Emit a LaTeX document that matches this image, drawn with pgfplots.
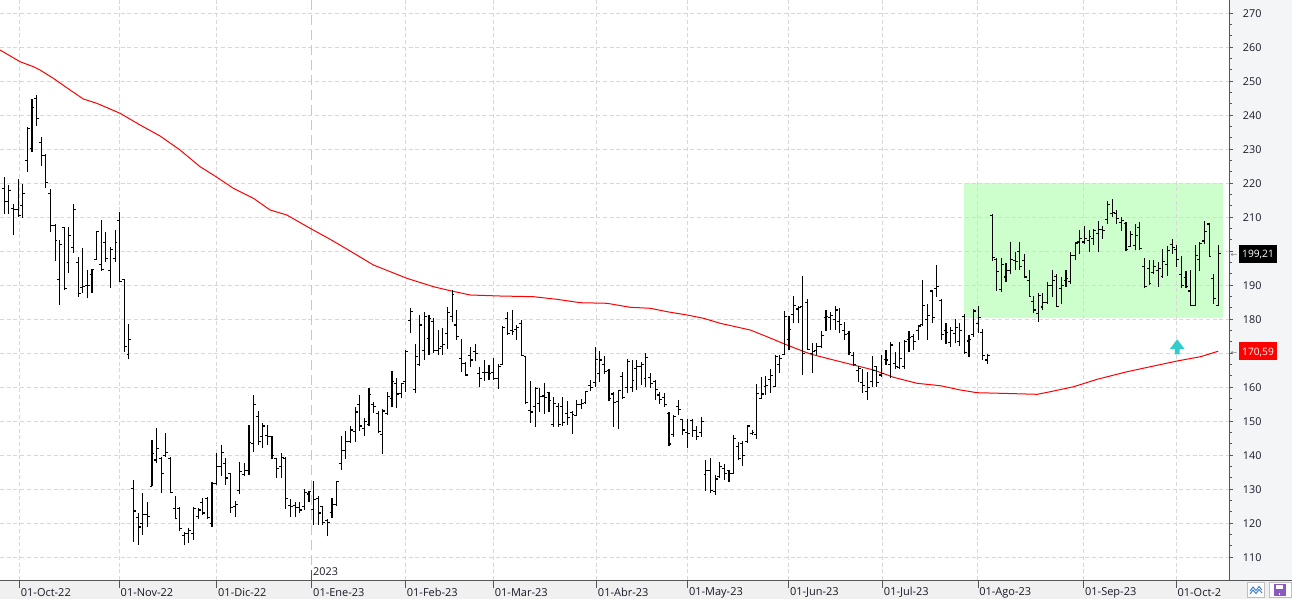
\documentclass[border=0pt]{standalone}
\usepackage{pgfplots}
\pgfplotsset{compat=1.18}
\usepackage{pgfplotstable}
\usetikzlibrary{calc,backgrounds}
\usepackage{fontspec}
\setmainfont{Open Sans}
\newfontfamily\dejavu{DejaVu Sans}
\definecolor{panelR}{RGB}{244,245,247}
\definecolor{panelB}{RGB}{240,240,240}
\definecolor{gridc}{RGB}{216,216,216}
\definecolor{yearc}{RGB}{200,200,200}
\definecolor{boxgreen}{RGB}{204,255,204}
\definecolor{arrowc}{RGB}{51,204,204}
\definecolor{axc}{RGB}{85,85,85}
\definecolor{txt}{RGB}{25,25,40}
\definecolor{floppy}{RGB}{140,90,190}
\definecolor{zig}{RGB}{70,130,210}
\pgfdeclareplotmark{ohlcopen}{\pgfpathmoveto{\pgfqpoint{-2.4pt}{0pt}}\pgfpathlineto{\pgfqpoint{0pt}{0pt}}\pgfusepathqstroke}
\pgfdeclareplotmark{ohlcclose}{\pgfpathmoveto{\pgfqpoint{0pt}{0pt}}\pgfpathlineto{\pgfqpoint{2.4pt}{0pt}}\pgfusepathqstroke}
\newcommand\tagbox[2]{{\setlength{\fboxsep}{0pt}\colorbox{#1}{\rule[-5pt]{0pt}{17.6pt}\hspace{3.3pt}\textcolor{white}{\fontsize{10.2}{12}\selectfont #2}\hspace{3.3pt}}}}
\newcommand\labA{{\textcolor{gray}{\dejavu\fontsize{8}{8}\selectfont ←}\hspace{1.5pt}\tagbox{black}{199,21}}}
\newcommand\labB{{\textcolor{gray}{\dejavu\fontsize{8}{8}\selectfont ←}\hspace{1.5pt}\tagbox{red}{170,59}}}

\pgfplotstableread{
i o h l c
0 218.4 221.8 211.0 214.5
1 214.5 219.4 211.0 217.9
2 212.5 214.0 204.7 212.2
3 212.2 221.1 210.0 210.5
4 213.5 219.9 209.9 217.1
5 226.7 236.5 223.3 236.2
6 230.1 244.8 229.1 242.2
7 244.8 246.0 236.8 238.9
8 231.9 233.5 225.0 228.2
9 228.2 228.5 218.7 220.1
10 216.9 218.4 205.5 207.6
11 207.6 208.1 197.1 203.2
12 191.7 203.2 184.3 202.0
13 206.9 207.1 188.5 189.0
14 196.7 207.1 193.6 204.7
15 201.2 213.8 199.6 212.3
16 196.8 198.3 186.6 187.6
17 189.3 200.8 187.6 189.5
18 190.0 194.6 186.1 190.0
19 193.2 194.9 187.7 194.6
20 197.5 206.0 197.5 205.9
21 196.1 209.1 194.2 194.7
22 202.6 205.5 196.8 197.9
23 194.3 201.2 189.3 200.5
24 197.9 206.1 196.8 202.6
25 208.9 211.4 191.0 191.2
26 191.6 191.8 170.4 172.0
27 169.6 178.7 168.2 174.0
28 130.3 132.8 114.6 123.6
29 121.7 123.1 113.7 118.9
30 119.8 128.8 116.6 122.5
31 122.5 126.3 119.0 122.0
32 130.8 144.6 130.8 140.6
33 138.6 147.9 137.6 142.0
34 139.1 139.4 129.0 134.7
35 139.8 146.4 139.6 140.9
36 139.1 139.6 128.8 129.0
37 124.4 128.0 121.2 121.5
38 124.4 124.9 117.6 118.5
39 116.3 117.5 113.5 117.0
40 117.1 118.5 114.3 117.9
41 117.1 124.8 115.1 124.4
42 122.0 124.4 121.2 123.9
43 126.1 127.4 122.5 123.0
44 127.4 127.6 121.3 121.7
45 120.0 132.0 119.0 131.6
46 131.8 140.6 131.3 136.8
47 136.8 142.9 133.8 140.8
48 137.5 139.1 131.3 133.3
49 134.7 134.9 123.0 124.6
50 124.9 126.6 121.7 125.6
51 129.6 138.1 128.6 135.2
52 134.3 137.6 133.8 135.4
53 135.4 148.9 134.2 143.7
54 143.5 157.7 140.8 155.0
55 151.5 153.0 143.0 144.0
56 145.6 149.6 142.0 148.6
57 145.9 148.9 142.9 145.4
58 145.4 145.6 138.8 139.8
59 139.0 139.1 133.3 136.2
60 136.7 140.6 133.3 139.4
61 139.1 139.6 124.2 127.2
62 125.1 127.2 121.7 124.9
63 125.1 126.3 121.8 124.6
64 124.7 126.1 123.0 123.9
65 124.9 130.1 123.9 129.1
66 128.6 129.6 126.1 129.4
67 124.0 132.5 119.4 127.0
68 127.4 128.0 119.5 123.0
69 124.9 125.1 119.5 120.1
70 120.8 121.2 116.1 120.3
71 123.2 127.4 121.5 125.4
72 125.4 132.5 125.1 132.3
73 137.6 145.7 135.7 141.5
74 141.5 147.2 138.8 144.0
75 144.0 148.6 143.5 147.4
76 147.1 154.3 144.0 152.7
77 154.8 157.6 147.2 148.6
78 147.9 150.9 145.7 149.9
79 149.1 159.9 148.6 157.8
80 154.8 155.6 152.5 154.3
81 152.3 153.0 146.4 147.0
82 146.0 153.5 140.4 153.0
83 152.3 158.5 151.8 157.2
84 156.7 164.8 154.1 161.6
85 161.1 162.8 154.0 158.0
86 158.2 161.3 156.7 161.1
87 161.8 170.9 158.7 170.4
88 179.5 183.2 175.8 182.2
89 159.2 172.6 158.2 169.0
90 166.6 181.3 166.1 178.3
91 170.9 182.1 167.9 180.7
92 174.3 181.1 169.6 180.2
93 179.2 180.5 170.2 170.9
94 170.9 176.7 169.4 171.4
95 171.9 177.5 169.4 172.6
96 175.8 183.5 171.2 181.9
97 180.9 188.5 179.1 187.3
98 178.3 182.6 174.0 174.9
99 168.5 174.3 164.4 167.0
100 167.0 167.3 163.4 163.6
101 169.2 171.7 165.8 168.0
102 170.4 172.6 167.8 170.0
103 164.1 165.8 160.0 162.6
104 164.4 168.0 161.9 164.4
105 164.3 166.5 162.1 163.9
106 164.4 168.7 162.1 162.6
107 162.6 166.8 159.4 166.1
108 166.8 177.9 166.8 177.6
109 180.2 182.2 175.3 175.8
110 176.8 182.6 175.3 176.5
111 176.9 178.4 174.0 177.6
112 178.8 179.9 169.2 169.4
113 169.1 169.2 155.0 155.4
114 153.1 161.9 149.4 152.7
115 154.3 160.1 148.4 159.7
116 155.3 159.7 152.6 157.2
117 157.4 161.1 152.2 157.0
118 158.4 158.7 152.8 156.2
119 149.0 157.2 148.4 155.3
120 154.3 155.3 148.4 149.0
121 154.3 157.2 148.6 149.5
122 152.3 155.8 148.9 151.0
123 152.5 153.1 146.2 152.0
124 151.8 156.2 151.5 154.8
125 155.0 156.4 153.5 155.2
126 155.5 159.0 155.0 158.7
127 160.6 162.1 159.0 160.0
128 161.3 171.7 160.1 168.2
129 163.9 170.6 161.4 168.0
130 166.6 169.2 163.9 164.5
131 165.0 165.4 155.8 156.7
132 158.0 158.7 148.4 155.4
133 155.8 159.2 147.6 158.9
134 163.1 164.6 156.5 157.0
135 160.0 168.2 158.2 167.5
136 160.0 168.0 158.7 162.0
137 165.5 168.0 159.2 166.0
138 166.1 167.5 160.6 166.6
139 162.6 170.0 160.1 168.8
140 162.8 164.1 159.7 161.0
141 161.6 162.1 156.2 159.2
142 157.7 158.7 155.0 156.5
143 157.0 158.2 154.3 154.8
144 152.3 152.8 142.6 143.3
145 146.0 151.8 145.4 151.3
146 154.3 156.2 151.8 153.5
147 150.4 150.6 146.0 147.4
148 146.6 150.6 142.0 146.5
149 150.2 150.6 145.4 147.2
150 147.2 148.6 144.5 145.5
151 146.6 151.3 145.4 149.9
152 134.2 138.6 129.6 135.5
153 135.6 139.1 128.8 129.6
154 129.3 134.2 128.4 133.0
155 133.7 138.1 133.4 136.8
156 136.2 137.5 132.7 134.5
157 135.4 135.6 132.2 134.7
158 134.7 145.9 134.7 144.9
159 142.5 144.0 138.6 139.0
160 143.5 144.2 136.7 139.9
161 144.0 148.9 143.5 148.6
162 146.5 147.4 145.9 146.8
163 146.2 161.0 144.9 158.2
164 156.7 163.1 156.5 158.0
165 160.1 163.3 157.7 160.5
166 162.3 165.4 158.4 163.5
167 160.1 169.4 160.0 169.0
168 166.6 169.4 164.1 168.5
169 169.5 182.4 169.4 180.9
170 174.0 180.9 170.9 176.9
171 181.5 186.8 178.8 184.1
172 183.0 183.9 178.8 183.4
173 183.8 192.6 163.5 169.9
174 185.0 185.8 170.9 171.1
175 169.9 172.9 164.1 170.5
176 170.9 172.9 169.4 172.1
177 172.0 176.4 171.4 175.3
178 180.5 182.6 176.4 180.8
179 180.6 182.2 176.9 181.0
180 180.0 183.8 176.8 182.7
181 179.2 183.2 175.8 178.5
182 176.6 179.2 174.0 175.5
183 175.8 176.4 169.4 170.2
184 169.4 170.3 166.2 166.6
185 165.0 166.2 161.6 165.5
186 161.3 165.4 158.2 160.5
187 158.7 164.5 156.2 160.0
188 161.6 169.1 160.2 165.0
189 166.0 166.2 160.2 161.5
190 163.6 169.4 163.1 164.0
191 168.2 170.9 166.6 168.0
192 166.6 173.4 162.6 172.4
193 167.0 170.4 165.3 166.0
194 165.7 173.4 165.5 168.5
195 166.0 173.9 165.5 173.5
196 174.0 176.4 170.4 174.5
197 174.8 175.7 170.9 173.5
198 176.6 178.0 173.8 178.0
199 178.5 191.5 178.0 184.0
200 180.0 184.4 174.0 181.0
201 188.3 188.6 178.8 180.5
202 189.0 195.9 186.6 189.5
203 185.5 185.8 174.0 175.6
204 176.8 178.8 172.7 176.0
205 173.1 177.6 171.7 176.6
206 175.8 180.2 172.9 177.5
207 173.4 178.8 172.2 176.6
208 180.9 181.5 169.7 170.3
209 173.6 175.3 168.8 174.0
210 175.5 182.9 174.8 182.4
211 178.8 183.8 175.8 180.5
212 176.0 177.0 168.0 169.4
213 168.0 169.7 166.8 169.4
214 210.5 211.0 197.1 198.1
215 197.6 197.9 188.3 194.0
216 188.8 198.1 188.0 196.2
217 192.4 196.4 191.0 194.2
218 194.4 202.7 193.2 197.6
219 197.3 199.9 194.4 197.0
220 199.8 202.7 194.6 195.5
221 197.3 199.3 192.0 192.4
222 191.5 194.6 186.6 186.8
223 185.3 186.8 181.7 182.7
224 181.7 187.6 179.2 187.1
225 183.6 187.8 182.7 184.8
226 185.0 191.0 184.6 190.0
227 190.0 194.4 186.6 191.5
228 192.5 193.2 183.5 183.8
229 189.0 192.5 184.5 190.0
230 191.5 194.4 189.5 192.0
231 191.0 199.8 190.5 198.8
232 198.8 202.7 197.3 202.4
233 202.7 206.1 199.3 203.7
234 202.7 207.3 202.0 203.7
235 203.2 206.1 199.8 204.2
236 203.7 206.6 201.7 206.1
237 205.1 209.0 199.8 206.5
238 206.3 207.3 203.7 206.0
239 209.3 214.9 207.9 213.8
240 211.0 215.4 210.0 211.5
241 211.0 212.0 208.1 209.5
242 208.5 210.0 205.9 209.0
243 208.1 208.6 200.1 200.5
244 201.5 205.9 201.4 205.0
245 201.7 208.1 200.3 204.7
246 207.0 208.6 200.3 200.8
247 195.5 197.9 189.1 189.6
248 195.0 197.3 190.0 190.5
249 193.8 197.3 193.2 195.5
250 194.4 196.8 189.5 195.0
251 192.6 200.6 192.2 197.0
252 196.0 201.5 192.7 200.1
253 202.0 203.7 199.3 201.0
254 200.5 201.7 195.4 197.6
255 193.2 198.5 189.3 190.0
256 192.3 194.2 189.3 189.5
257 188.3 194.4 183.8 184.1
258 184.1 201.7 183.8 198.8
259 197.5 202.7 194.2 202.2
260 203.0 209.0 202.2 205.9
261 208.0 208.2 198.3 198.5
262 192.0 193.2 184.6 186.1
263 184.1 201.7 183.8 199.21
}\ohlc

\pgfplotsset{
  common/.style={
    scale only axis, width=1229.5pt, height=580pt,
    xmin=-0.932, xmax=265.43, ymin=103.3, ymax=273.88,
    axis line style={draw=axc, line width=0.9pt},
    major grid style={draw=gridc, dash pattern=on 4pt off 2.7pt, line width=0.9pt},
    tick style={draw=axc, line width=0.8pt},
    tick align=outside,
  },
}

\begin{document}
\begin{tikzpicture}[x=1pt,y=1pt]
% axis 1: background, green zone, y grid, y ticks, year line
\begin{axis}[
  common,
  axis background/.style={fill=white},
  axis on top,
  axis x line*=bottom, axis y line*=right,
  xtick=\empty,
  ytick={110,120,...,270},
  yticklabels={110,120,130,140,150,160,{},180,190,{},210,220,230,240,250,260,270},
  minor y tick num=2,
  ymajorgrids,
  major tick length=3.2pt, minor tick length=2.6pt,
  yticklabel style={anchor=west, inner sep=0pt, xshift=10pt, font=\fontsize{10.8}{12}\selectfont, text=txt},
  extra y ticks={199.21,170.59},
  extra y tick labels={\labA,\labB},
  extra y tick style={grid=none, major tick length=0pt, yticklabel style={xshift=-9pt}},
  extra x ticks={66.62},
  extra x tick labels={2023},
  extra x tick style={grid=major, major grid style={draw=yearc, dash pattern=on 10pt off 5pt, line width=1.3pt},
    tick align=inside, major tick length=10pt,
    xticklabel style={anchor=west, inner sep=0pt, xshift=1.2pt, yshift=8.5pt, font=\fontsize{10.8}{12}\selectfont, text=txt}},
]
\addplot[fill=boxgreen, draw=none] coordinates {(207.85,180.4) (264.07,180.4) (264.07,220) (207.85,220)} -- cycle;
\coordinate (BL) at (rel axis cs:0,0);
\end{axis}
% axis 2: data, x ticks, month grid
\begin{axis}[
  common,
  axis x line*=bottom, axis y line=none,
  xtick={3.29,24.92,46.03,86.91,105.98,128.31,148.03,169.92,190.27,210.92,233.85,253.88},
  xticklabels={01-Oct-22,01-Nov-22,01-Dic-22,01-Feb-23,01-Mar-23,01-Abr-23,01-May-23,01-Jun-23,01-Jul-23,01-Ago-23,01-Sep-23,01-Oct-2},
  extra x ticks={66.62}, extra x tick labels={01-Ene-23}, extra x tick style={grid=none},
  xmajorgrids,
  major tick length=8pt,
  xticklabel style={anchor=west, inner sep=0pt, xshift=1.2pt, yshift=-4.5pt, font=\fontsize{11}{12}\selectfont, text=txt},
]
% moving average
\addplot[red, line width=1pt] coordinates {
(-0.93,259.18) (3.40,255.74) (6.29,254.26) (7.74,253.29) (10.62,250.85) (13.52,248.09)
(17.12,244.76) (20.03,243.50) (25.08,240.56) (29.41,237.12) (33.75,233.88) (38.08,229.76)
(42.41,224.85) (45.30,222.41) (49.63,218.50) (53.97,215.56) (57.58,212.12) (61.20,210.65)
(66.25,206.74) (70.59,203.50) (74.56,200.35) (79.97,195.94) (87.21,192.03) (92.98,189.56)
(96.60,188.38) (100.93,187.12) (107.43,186.82) (114.65,186.62) (119.72,185.85) (124.77,184.85)
(130.56,184.68) (135.61,183.50) (139.94,183.21) (143.56,182.21) (147.90,181.24) (151.50,180.26)
(155.11,178.79) (161.61,176.82) (165.23,174.85) (169.56,172.41) (174.61,169.76) (179.66,168.00)
(184.00,166.53) (188.34,165.06) (192.67,162.91) (197.74,161.15) (202.79,160.44) (207.13,159.18)
(210.75,158.38) (215.80,158.21) (223.75,157.91) (226.63,158.68) (231.68,160.15) (236.75,162.32)
(243.25,164.56) (248.30,166.03) (254.09,167.71) (259.14,168.97) (263.00,170.59)
};
% OHLC bars
\addplot[black, line width=1.1pt, quiver={u=0, v=\thisrow{h}-\thisrow{l}}] table[x=i, y=l] {\ohlc};
\addplot[only marks, black, mark=ohlcopen, mark options={solid, line width=1.1pt}] table[x=i, y=o] {\ohlc};
\addplot[only marks, black, mark=ohlcclose, mark options={solid, line width=1.1pt}] table[x=i, y=c] {\ohlc};
% cyan arrow
\addplot[fill=arrowc, draw=none] coordinates {(254.1,174.1) (255.7,171.2) (254.6,171.2) (254.6,169.65) (253.6,169.65) (253.6,171.2) (252.5,171.2)} -- cycle;
\end{axis}
\pgfresetboundingbox
\path[use as bounding box] ($(BL)+(0,-19)$) rectangle ($(BL)+(1292,580)$);
\begin{scope}[on background layer]
\fill[panelB] ($(BL)+(0,-19)$) rectangle ($(BL)+(1292,0)$);
\fill[panelR] ($(BL)+(1229.5,0)$) rectangle ($(BL)+(1292,580)$);
\end{scope}
\begin{scope}[shift={($(BL)+(0,-19)$)}]
\draw[axc, line width=0.9pt] (1229.5,19) -- (1292,19);
\draw[gray!50, fill=white, line width=0.8pt] (1247.5,1.5) rectangle (1264.5,16.5);
\draw[zig, line width=1pt] (1250,8) -- (1253,12) -- (1256,8.5) -- (1259,12.5) -- (1262,9);
\draw[zig, line width=1pt] (1250,5) -- (1253,9) -- (1256,5.5) -- (1259,9.5) -- (1262,6);
\draw[gray!50, fill=white, line width=0.8pt] (1269.5,1.5) rectangle (1291.5,16.5);
\fill[floppy] (1273.5,3) rectangle (1285.5,15);
\fill[white] (1276,10) rectangle (1283,14);
\fill[white] (1278.6,4.3) rectangle (1280.4,6.3);
\end{scope}
\end{tikzpicture}
\end{document}
